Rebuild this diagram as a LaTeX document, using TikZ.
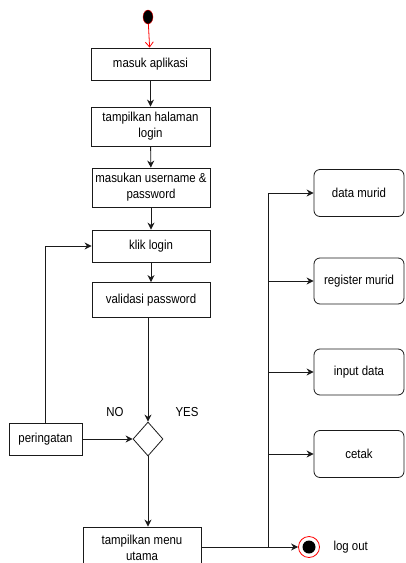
\documentclass[tikz,border=0pt]{standalone}
\usepackage{fontspec}
\setmainfont[FakeStretch=0.88]{Liberation Sans}
\usetikzlibrary{shapes.geometric,arrows.meta}
\definecolor{vdarkgray}{HTML}{1a1a1a}
\definecolor{vred}{HTML}{ff0000}

\tikzset{
	actbox/.style={draw=vdarkgray, line width=0.8pt, rectangle, align=center, inner sep=1pt, font=\fontsize{13}{16}\selectfont},
	menubox/.style={actbox, rounded corners=6pt},
	arr/.style={draw=vdarkgray, line width=0.9pt, -{Stealth[length=7pt,width=7pt]}},
	txt/.style={font=\fontsize{13}{15}\selectfont}
}

\begin{document}
\begin{tikzpicture}[x=1pt,y=-1pt]
		\useasboundingbox (0,0) rectangle (405,563);
		% start and end
		\node[draw=vred, fill=black, ellipse, minimum width=10pt, minimum height=14pt, inner sep=0pt] (start) at (148,17) {};
		\node[draw=vred, circle, line width=0.8pt, minimum size=21pt, inner sep=0pt] (stop) at (309,547) {};
		\fill[black] (stop.center) circle (6.5);
		% main flow
		\node[actbox, minimum width=119pt, minimum height=32pt] (masuk) at (150.5,64) {masuk aplikasi};
		\node[actbox, minimum width=119pt, minimum height=39pt] (halaman) at (150.5,126.5) {tampilkan halaman\\login};
		\node[actbox, minimum width=118pt, minimum height=39pt] (input) at (151,187.5) {masukan username \&\\password};
		\node[actbox, minimum width=118pt, minimum height=32pt] (klik) at (151,246) {klik login};
		\node[actbox, minimum width=118pt, minimum height=35pt] (validasi) at (151,300) {validasi password};
		\node[draw=vdarkgray, line width=0.8pt, diamond, minimum width=30pt, minimum height=34pt, inner sep=0pt] (cek) at (148,439) {};
		\node[actbox, minimum width=73pt, minimum height=32pt] (peringatan) at (45.5,439) {peringatan};
		\node[actbox, minimum width=118pt, minimum height=42pt] (menu) at (142,548) {tampilkan menu\\utama};
		% menu items
		\node[menubox, minimum width=90pt, minimum height=47pt] (murid) at (359,193) {data murid};
		\node[menubox, minimum width=90pt, minimum height=46pt] (register) at (359,281) {register murid};
		\node[menubox, minimum width=90pt, minimum height=46pt] (inputdata) at (359,372) {input data};
		\node[menubox, minimum width=90pt, minimum height=47pt] (cetak) at (359,454) {cetak};
		\coordinate (bus) at (268,193);
		% labels
		\node[txt] (no) at (115,412) {NO};
		\node[txt] (yes) at (187,412) {YES};
		\node[txt, anchor=west] (logout) at (330,547) {log out};
		% connectors
		\draw[draw=vred, line width=0.8pt, -{Straight Barb[length=5pt,width=8pt]}] (start) -- (masuk);
		\draw[arr] (masuk) -- (halaman);
		\draw[arr] (halaman) -- (input);
		\draw[arr] (input) -- (klik);
		\draw[arr] (klik) -- (validasi);
		\draw[arr] (validasi.south -| cek) -- (cek.north);
		\draw[arr] (cek) -- (menu.north -| cek);
		\draw[arr] (peringatan) -- (cek);
		\draw[arr] (peringatan.north) |- (klik.west);
		\draw[arr] (menu.east |- stop) -- (stop);
		\draw[draw=vdarkgray, line width=0.9pt] (bus) -- (bus |- stop);
		\draw[arr] (bus) -- (murid);
		\draw[arr] (bus |- register) -- (register);
		\draw[arr] (bus |- inputdata) -- (inputdata);
		\draw[arr] (bus |- cetak) -- (cetak);
	\end{tikzpicture}
\end{document}
